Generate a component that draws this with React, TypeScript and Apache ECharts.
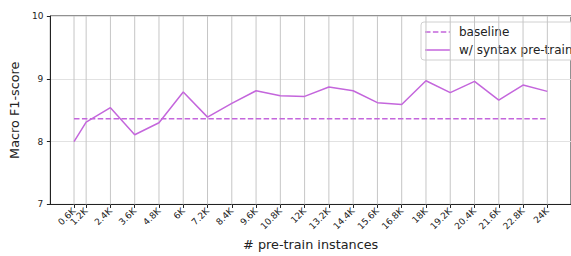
import { useEffect, useRef } from "react";
import * as echarts from "echarts";

const xTicks = [0.6, 1.2, 2.4, 3.6, 4.8, 6, 7.2, 8.4, 9.6, 10.8, 12, 13.2, 14.4, 15.6, 16.8, 18, 19.2, 20.4, 21.6, 22.8, 24];
const xTickLabels = ["0.6K", "1.2K", "2.4K", "3.6K", "4.8K", "6K", "7.2K", "8.4K", "9.6K", "10.8K", "12K", "13.2K", "14.4K", "15.6K", "16.8K", "18K", "19.2K", "20.4K", "21.6K", "22.8K", "24K"];
const syntaxValues = [8.0, 8.31, 8.54, 8.11, 8.3, 8.79, 8.39, 8.61, 8.81, 8.73, 8.72, 8.87, 8.81, 8.62, 8.59, 8.97, 8.78, 8.96, 8.66, 8.9, 8.8];
const baselineValue = 8.364;
const yTicks = [7, 8, 9, 10];
const legendNames = ["baseline", "w/ syntax pre-train"];

const LINE_COLOR = "#c466dc";
const FONT = "DejaVu Sans";
const DASH = [5.5, 2.4];

export default function App() {
  const ref = useRef<HTMLDivElement>(null);
  useEffect(() => {
    document.body.style.margin = "0";
    if (!ref.current) return;
    const chart = echarts.init(ref.current, undefined, { renderer: "svg" });
    const labelFor = (v: number) => {
      const i = xTicks.findIndex((t) => Math.abs(t - v) < 1e-6);
      return i >= 0 ? xTickLabels[i] : "";
    };
    const span = xTicks[xTicks.length - 1] - xTicks[0];
    const xMin = xTicks[0] - span * 0.05;
    const xMax = xTicks[xTicks.length - 1] + span * 0.05;
    const yMin = yTicks[0];
    const yMax = yTicks[yTicks.length - 1];

    const tickLabelStyle = {
      rotate: 45,
      fontSize: 9,
      color: "#222",
      margin: 5,
      hideOverlap: false,
      fontFamily: FONT,
      formatter: (v: number) => labelFor(v),
    };

    const lgX = 421;
    const lgY = 22;
    chart.setOption({
      animation: false,
      textStyle: { fontFamily: FONT },
      grid: {
        left: 45,
        top: 16,
        bottom: 48,
        right: -10,
        show: true,
        borderColor: "#222",
        borderWidth: 1,
        containLabel: false,
      },
      xAxis: [
        {
          type: "value",
          min: xMin,
          max: xMax,
          name: "# pre-train instances",
          nameLocation: "middle",
          nameGap: 31,
          nameTextStyle: { fontSize: 12.8, color: "#222", fontFamily: FONT },
          axisLine: { show: true, onZero: false, lineStyle: { color: "#222", width: 1 } },
          axisTick: { show: true, customValues: xTicks, length: 3.5, lineStyle: { color: "#222" } },
          axisLabel: { ...tickLabelStyle, customValues: xTicks.slice(1) },
          splitLine: { show: false },
        },
        {
          type: "value",
          position: "bottom",
          min: xMin,
          max: xMax,
          axisLine: { show: false, onZero: false },
          axisTick: { show: false },
          axisLabel: { ...tickLabelStyle, customValues: xTicks.slice(0, 1) },
          splitLine: { show: false },
        },
      ],
      yAxis: {
        type: "value",
        min: yMin,
        max: yMax,
        interval: 1,
        name: "Macro F1-score",
        nameLocation: "middle",
        nameGap: 11,
        nameTextStyle: { fontSize: 12.8, color: "#222", fontFamily: FONT },
        axisLine: { show: true, onZero: false, lineStyle: { color: "#222", width: 1 } },
        axisTick: { show: true, length: 3.5, lineStyle: { color: "#222" } },
        axisLabel: { fontSize: 9, color: "#222", margin: 7, fontFamily: FONT },
        splitLine: { show: true, lineStyle: { color: "#e2e2e2", width: 1 } },
      },
      graphic: [
        {
          type: "group",
          z: 100,
          children: [
            {
              type: "rect",
              shape: { x: lgX, y: lgY, width: 175, height: 38, r: 3 },
              style: { fill: "rgba(255,255,255,0.9)", stroke: "#d0d0d0", lineWidth: 1 },
            },
            {
              type: "line",
              shape: { x1: lgX + 4, y1: lgY + 10, x2: lgX + 29, y2: lgY + 10 },
              style: { stroke: LINE_COLOR, lineWidth: 1.5, lineDash: DASH },
            },
            {
              type: "text",
              x: lgX + 38,
              y: lgY + 10,
              style: { text: legendNames[0], fill: "#222", font: `12px "${FONT}"`, verticalAlign: "middle" },
            },
            {
              type: "line",
              shape: { x1: lgX + 4, y1: lgY + 28, x2: lgX + 29, y2: lgY + 28 },
              style: { stroke: LINE_COLOR, lineWidth: 1.5 },
            },
            {
              type: "text",
              x: lgX + 38,
              y: lgY + 28,
              style: { text: legendNames[1], fill: "#222", font: `12px "${FONT}"`, verticalAlign: "middle" },
            },
          ],
        },
      ],
      series: [
        {
          name: "gridlines",
          type: "custom",
          silent: true,
          z: 1,
          data: xTicks.map((v) => [v, yMin]),
          encode: { x: 0, y: 1 },
          renderItem: (_params: any, api: any) => {
            const top = api.coord([api.value(0), yMax]);
            const bottom = api.coord([api.value(0), yMin]);
            return {
              type: "line",
              shape: { x1: top[0], y1: top[1], x2: bottom[0], y2: bottom[1] },
              style: { stroke: "#c6c6c6", lineWidth: 1 },
            };
          },
        },
        {
          name: legendNames[0],
          type: "line",
          data: [
            [xTicks[0], baselineValue],
            [xTicks[xTicks.length - 1], baselineValue],
          ],
          symbol: "none",
          showSymbol: false,
          lineStyle: { color: LINE_COLOR, width: 1.5, type: DASH },
          itemStyle: { color: LINE_COLOR },
          z: 3,
        },
        {
          name: legendNames[1],
          type: "line",
          data: xTicks.map((x, i) => [x, syntaxValues[i]]),
          symbol: "none",
          showSymbol: false,
          lineStyle: { color: LINE_COLOR, width: 1.5 },
          itemStyle: { color: LINE_COLOR },
          z: 3,
        },
      ],
    });
    return () => chart.dispose();
  }, []);
  return <div ref={ref} style={{ width: 571, height: 256 }} />;
}
